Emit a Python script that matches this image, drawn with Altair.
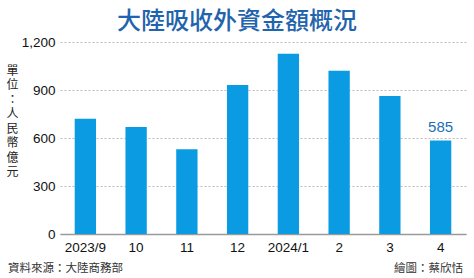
import altair as alt
import pandas as pd

months = ["2023/9", "10", "11", "12", "2024/1", "2", "3", "4"]
values = [720, 668, 530, 932, 1127, 1020, 862, 585]
labels = ["", "", "", "", "", "", "", "585"]
y_ticks = [0, 300, 600, 900, 1200]

title_text = "大陸吸收外資金額概況"
unit_text = "單位：人民幣億元"
source_text = "資料來源：大陸商務部"
credit_text = "繪圖：蔡欣恬"

df = pd.DataFrame({"month": months, "value": values, "label": labels})

x = alt.X(
    "month:N",
    sort=months,
    scale=alt.Scale(paddingInner=0.58, paddingOuter=0.29),
    axis=alt.Axis(
        title=None, labelAngle=0, ticks=False, grid=False,
        domainColor="#9a9a9a", domainWidth=1.5,
        labelFont="Liberation Sans", labelFontSize=13.5, labelColor="#111111",
        labelPadding=6,
    ),
)
y = alt.Y(
    "value:Q",
    scale=alt.Scale(domain=[0, 1200]),
    axis=alt.Axis(
        values=y_ticks, format=",.0f", domain=False, ticks=False, labelPadding=5,
        labelFont="Liberation Sans", labelFontSize=13.5, labelColor="#111111",
        gridDash=[2, 2], gridColor="#bdbdbd", gridWidth=1,
        title=list(unit_text), titleAngle=0, titleX=-48, titleY=23,
        titleBaseline="top", titleAlign="center", titleLineHeight=14.5,
        titleFont="Noto Sans CJK TC", titleFontSize=12, titleFontWeight="normal",
        titleColor="#222222",
    ),
)

base = alt.Chart(df)
bars = base.mark_bar(color="#0b9be3").encode(x=x, y=y)
text = base.mark_text(
    baseline="bottom", dy=-5, font="Liberation Sans", fontSize=15, color="#1d6fb5"
).encode(x=x, y=y, text="label:N")

title_mark = alt.Chart(pd.DataFrame({"t": [title_text]})).mark_text(
    align="center", baseline="alphabetic", font="Noto Sans CJK TC", fontSize=24,
    fontWeight=500, color="#1f64ad"
).encode(x=alt.value(177), y=alt.value(-13), text="t:N")
foot_left = alt.Chart(pd.DataFrame({"t": [source_text]})).mark_text(
    align="left", baseline="middle", font="Noto Sans CJK TC", fontSize=11.5, color="#333333"
).encode(x=alt.value(-52), y=alt.value(227), text="t:N")
foot_right = alt.Chart(pd.DataFrame({"t": [credit_text]})).mark_text(
    align="right", baseline="middle", font="Noto Sans CJK TC", fontSize=11.5, color="#333333"
).encode(x=alt.value(403), y=alt.value(227), text="t:N")

chart = alt.layer(bars, text, title_mark, foot_left, foot_right).properties(
    width=406,
    height=192,
    autosize=alt.AutoSizeParams(type="none"),
    padding={"left": 60, "top": 42, "right": 8, "bottom": 44},
    background="white",
).configure_view(stroke=None)

chart.save("out.html", embed_options={"renderer": "svg", "actions": False})
